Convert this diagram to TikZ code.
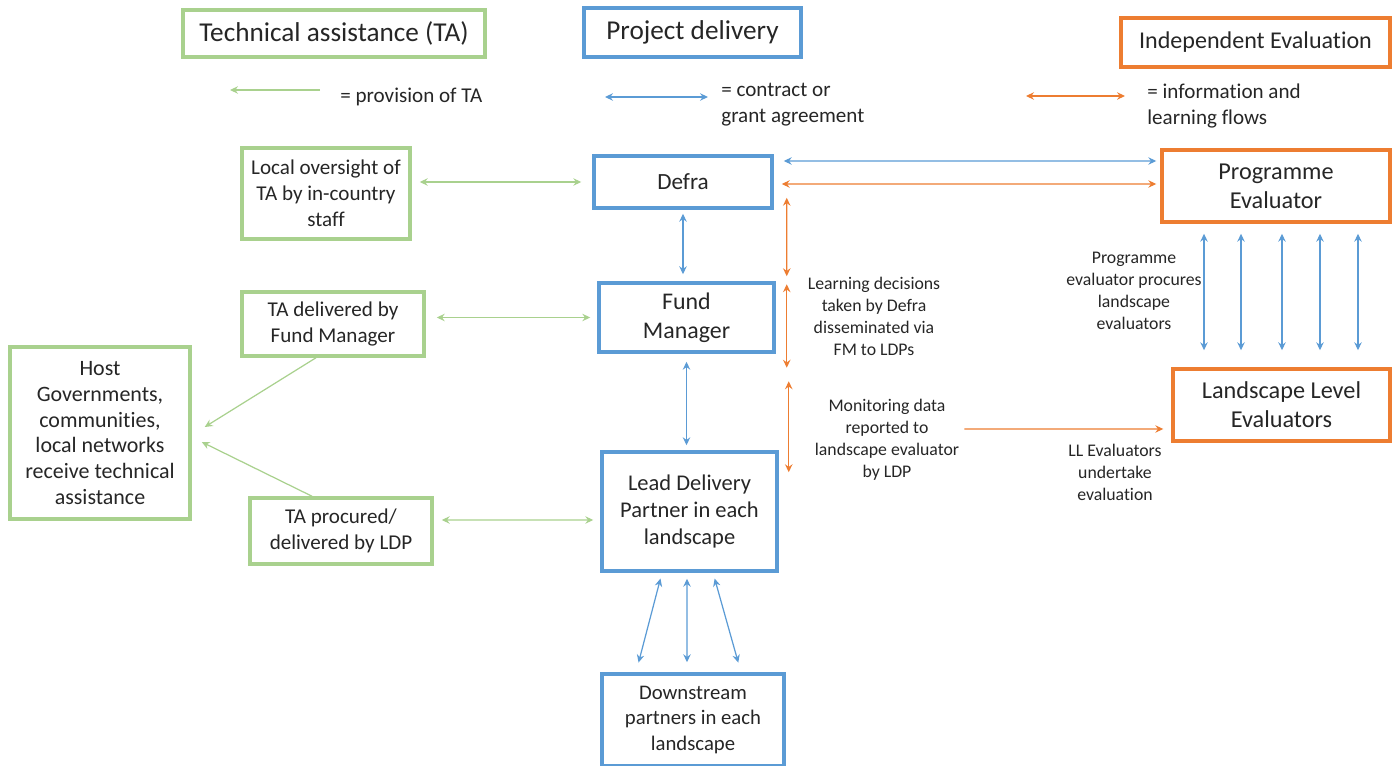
\documentclass[tikz,border=0pt]{standalone}
\usepackage{fontspec}
\setmainfont{Carlito}[RawFeature=-liga]
\usetikzlibrary{calc,arrows.meta}
\definecolor{tagreen}{HTML}{A9D18E}
\definecolor{pdblue}{HTML}{5B9BD5}
\definecolor{ieorange}{HTML}{ED7D31}
\definecolor{inktext}{HTML}{262626}
\newcommand{\fs}[2]{\fontsize{#1}{#2}\selectfont}
\tikzset{
	box/.style={draw, rectangle, align=center, text=inktext, inner sep=0pt, line width=2pt, font=\fs{12}{14.7}},
	tabox/.style={box, draw=tagreen},
	pdbox/.style={box, draw=pdblue},
	iebox/.style={box, draw=ieorange},
	titlebox/.style={line width=2.8pt},
	note/.style={align=center, text=inktext, inner sep=0pt, font=\fs{10.1}{12.5}},
	keytext/.style={note, align=left, anchor=west, font=\fs{12}{14.7}},
	flow/.style={line width=0.7pt, {Stealth[length=4.5pt, width=4.2pt]}-{Stealth[length=4.5pt, width=4.2pt]}},
	taflow/.style={flow, draw=tagreen},
	taone/.style={line width=0.7pt, draw=tagreen, -{Stealth[length=4.5pt, width=4.2pt]}},
	pdflow/.style={flow, draw=pdblue},
	ieflow/.style={flow, draw=ieorange},
}
\begin{document}
\begin{tikzpicture}[x=0.02cm, y=-0.02cm]
		%%%%% START %%%%%
		\useasboundingbox (0,0) rectangle (1400,766);
		
		\node[tabox, titlebox, minimum width=6.04cm, minimum height=0.94cm, font=\fs{15.5}{18}] (tatitle) at (334,33.5) {Technical assistance (TA)};
		\node[pdbox, titlebox, minimum width=4.34cm, minimum height=0.98cm, font=\fs{15.5}{18}] (pdtitle) at (692.5,32.5) {Project delivery};
		\node[iebox, titlebox, minimum width=5.38cm, minimum height=0.98cm, font=\fs{13.7}{16}] (ietitle) at (1255.5,42.5) {Independent Evaluation};
		
		\coordinate (takeyr) at (320,90);
		\coordinate (takeyl) at (230,90);
		\draw[taone] (takeyr) -- (takeyl);
		\node[keytext] (takey) at (340,97) {= provision of TA};
		
		\coordinate (pdkeyl) at (605,97);
		\coordinate (pdkeyr) at (708,97);
		\draw[pdflow] (pdkeyl) -- (pdkeyr);
		\node[keytext] (pdkey) at (721,105) {= contract or\\grant agreement};
		
		\coordinate (iekeyl) at (1026,96);
		\coordinate (iekeyr) at (1125,96);
		\draw[ieflow] (iekeyl) -- (iekeyr);
		\node[keytext] (iekey) at (1147,106) {= information and\\learning flows};
		
		\node[tabox, minimum width=3.36cm, minimum height=1.82cm] (oversight) at (326,193.5) {Local oversight of\\TA by in-country\\staff};
		\node[tabox, minimum width=3.64cm, minimum height=1.28cm] (tafm) at (333,324) {TA delivered by\\Fund Manager};
		\node[tabox, minimum width=3.64cm, minimum height=1.32cm] (taldp) at (341,531) {TA procured/\\delivered by LDP};
		\node[tabox, minimum width=3.6cm, minimum height=3.44cm, font=\fs{12.5}{14.7}] (host) at (100,433) {Host\\Governments,\\communities,\\local networks\\receive technical\\assistance};
		
		\node[pdbox, minimum width=3.56cm, minimum height=1.04cm, font=\fs{13.2}{16}] (defra) at (683,182) {Defra};
		\node[pdbox, minimum width=3.5cm, minimum height=1.38cm, font=\fs{13.6}{16.4}] (fm) at (686.5,317.5) {Fund\\Manager};
		\node[pdbox, minimum width=3.5cm, minimum height=2.38cm, font=\fs{12.8}{15.3}] (ldp) at (689.5,511.5) {Lead Delivery\\Partner in each\\landscape};
		\node[pdbox, minimum width=3.64cm, minimum height=1.84cm, font=\fs{11.8}{14.7}] (down) at (693,720) {Downstream\\partners in each\\landscape};
		
		\node[iebox, minimum width=4.56cm, minimum height=1.44cm, font=\fs{13.8}{16.4}] (pe) at (1276,186) {Programme\\Evaluator};
		\node[iebox, minimum width=4.34cm, minimum height=1.44cm, font=\fs{13.8}{16.4}] (llev) at (1281.5,405) {Landscape Level\\Evaluators};
		
		\node[note] (learning) at (874,316) {Learning decisions\\taken by Defra\\disseminated via\\FM to LDPs};
		\node[note] (monitor) at (887,440) {Monitoring data\\reported to\\landscape evaluator\\by LDP};
		\node[note] (procures) at (1134,291) {Programme\\evaluator procures\\landscape\\evaluators};
		\node[note] (undertake) at (1115,472) {LL Evaluators\\undertake\\evaluation};
		
		% technical assistance
		\draw[taflow, shorten <=0.16cm, shorten >=0.22cm] (oversight.east |- defra.west) -- (defra.west);
		\draw[taflow, shorten <=0.22cm, shorten >=0.14cm] (tafm.east |- fm.west) -- (fm.west);
		\draw[taflow, shorten <=0.16cm, shorten >=0.14cm] ([yshift=0.22cm]taldp.east) -- ([yshift=-0.17cm]ldp.west);
		\draw[taone] ([xshift=-0.34cm]tafm.south) -- ([shift={(0.26cm,0.12cm)}]host.east);
		\draw[taone] ([xshift=-0.58cm]taldp.north) -- ([shift={(0.2cm,-0.18cm)}]host.east);
		
		% delivery
		\draw[pdflow, shorten <=0.08cm, shorten >=0.14cm] (defra.south) -- (defra.south |- fm.north);
		\draw[pdflow, shorten <=0.16cm, shorten >=0.1cm] (fm.south) -- (fm.south |- ldp.north);
		\draw[pdflow, shorten <=0.2cm, shorten >=0.08cm] ([yshift=0.42cm]defra.east) -- ([yshift=0.5cm]pe.west);
		\foreach \dx/\ex in {-0.55/-1.14, -0.05/-0.12, 0.47/0.96}
			\draw[pdflow, shorten <=0.12cm, shorten >=0.2cm] ([xshift=\dx cm]ldp.south) -- ([xshift=\ex cm]down.north);
		\foreach \dx in {-1.44, -0.7, 0.12, 0.88, 1.64}
			\draw[pdflow, shorten <=0.2cm, shorten >=0.34cm] ([xshift=\dx cm]pe.south) -- ([xshift=\dx cm]pe.south |- llev.north);
		
		% evaluation
		\draw[ieflow, shorten <=0.16cm, shorten >=0.08cm] ([yshift=-0.04cm]defra.east) -- ([yshift=0.04cm]pe.west);
		\draw[ieflow] ([shift={(0.26cm,0.24cm)}]defra.south east) -- ([shift={(0.22cm,0.1cm)}]fm.north east);
		\draw[ieflow] ([shift={(0.22cm,-0.06cm)}]fm.north east) -- ([shift={(0.22cm,-0.28cm)}]fm.south east);
		\draw[ieflow] ([shift={(0.2cm,1.38cm)}]ldp.north east) -- ([shift={(0.2cm,-0.44cm)}]ldp.north east);
		\draw[ieflow, -{Stealth[length=4.5pt, width=4.2pt]}, shorten <=0.1cm, shorten >=0.16cm] ([yshift=0.22cm]monitor.east) -- ([yshift=-0.48cm]llev.west);
		%%%%% END %%%%%
\end{tikzpicture}
\end{document}
